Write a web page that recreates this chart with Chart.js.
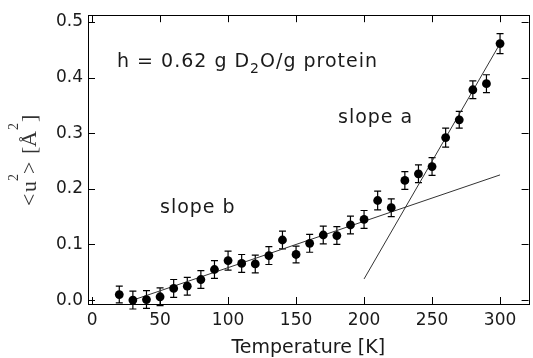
<!DOCTYPE html>
<html>
<head>
<meta charset="utf-8">
<script src="https://cdn.jsdelivr.net/npm/chart.js@4.4.1/dist/chart.umd.min.js"></script>
<style>
html,body{margin:0;padding:0;background:#fff;}
canvas{display:block;}
</style>
</head>
<body>
<canvas id="msdChart" width="533" height="358"></canvas>
<script>
/* ==========================================
   MSD vs TEMPERATURE
========================================== */

// measured points
const temps = [20,30,40,50,60,70,80,90,100,110,120,130,140,150,160,170,180,190,200,210,220,230,240,250,260,270,280,290,300];
const msd   = [0.010,0.000,0.001,0.006,0.021,0.025,0.037,0.055,0.071,0.066,0.065,0.080,0.108,0.082,0.102,0.117,0.116,0.135,0.145,0.179,0.166,0.215,0.227,0.240,0.292,0.324,0.378,0.389,0.461];
const errs  = [0.015,0.016,0.016,0.016,0.016,0.016,0.016,0.016,0.017,0.016,0.016,0.016,0.016,0.015,0.016,0.016,0.016,0.016,0.016,0.017,0.016,0.016,0.016,0.016,0.017,0.015,0.016,0.016,0.018];

// fitted lines
const slopeAT = [200,300];
const slopeAU = [0.038,0.461];
const slopeBT = [30,300];
const slopeBU = [0.000,0.225];

// axes
const xTicks = [0,50,100,150,200,250,300];
const xTickLabels = ["0","50","100","150","200","250","300"];
const yTicks = [0,0.1,0.2,0.3,0.4,0.5];
const yTickLabels = ["0.0","0.1","0.2","0.3","0.4","0.5"];

const textColor = "#1a1a1a";
const sansFont = "'DejaVu Sans'";
const serifFont = "'Liberation Serif'";

function toPoints(xs,ys){
    return xs.map((x,i)=>({x:x,y:ys[i]}));
}

// frame + inside ticks
const framePlugin = {
    id:"frame",
    afterDraw(chart){
        const ctx = chart.ctx;
        const a = chart.chartArea;
        const xs = chart.scales.x;
        const ys = chart.scales.y;
        const len = 7;
        ctx.save();
        ctx.strokeStyle = "#000";
        ctx.lineWidth = 1;
        ctx.strokeRect(Math.round(a.left)+0.5,Math.round(a.top)+0.5,Math.round(a.right-a.left),Math.round(a.bottom-a.top));
        ctx.beginPath();
        xTicks.forEach(v=>{
            const px = Math.round(xs.getPixelForValue(v))+0.5;
            ctx.moveTo(px,a.bottom); ctx.lineTo(px,a.bottom-len);
            ctx.moveTo(px,a.top); ctx.lineTo(px,a.top+len);
        });
        yTicks.forEach(v=>{
            const py = Math.round(ys.getPixelForValue(v))+0.5;
            ctx.moveTo(a.left,py); ctx.lineTo(a.left+len,py);
            ctx.moveTo(a.right,py); ctx.lineTo(a.right-len,py);
        });
        ctx.stroke();
        ctx.restore();
    }
};

// error bars under the markers
const errorBarPlugin = {
    id:"errorBars",
    beforeDatasetsDraw(chart){
        const ctx = chart.ctx;
        const ys = chart.scales.y;
        const meta = chart.getDatasetMeta(0);
        const cap = 3.5;
        ctx.save();
        ctx.strokeStyle = "#000";
        ctx.lineWidth = 1.2;
        ctx.beginPath();
        meta.data.forEach((pt,i)=>{
            const x = pt.x;
            const y1 = ys.getPixelForValue(msd[i]+errs[i]);
            const y2 = ys.getPixelForValue(msd[i]-errs[i]);
            ctx.moveTo(x,y1); ctx.lineTo(x,y2);
            ctx.moveTo(x-cap,y1); ctx.lineTo(x+cap,y1);
            ctx.moveTo(x-cap,y2); ctx.lineTo(x+cap,y2);
        });
        ctx.stroke();
        ctx.restore();
    }
};

// titles and notes
function drawSpaced(ctx,str,x,y,ls){
    ctx.letterSpacing = ls+"px";
    ctx.fillText(str,x,y);
    const w = ctx.measureText(str).width;
    ctx.letterSpacing = "0px";
    return x+w;
}

const labelPlugin = {
    id:"labels",
    afterDraw(chart){
        const ctx = chart.ctx;
        const a = chart.chartArea;
        ctx.save();
        ctx.fillStyle = textColor;
        ctx.textBaseline = "alphabetic";
        ctx.textAlign = "left";

        // x title
        ctx.font = "19px "+sansFont;
        ctx.textAlign = "center";
        ctx.fillText("Temperature [K]",(a.left+a.right)/2,353);
        ctx.textAlign = "left";

        // note
        ctx.font = "19px "+sansFont;
        let x = drawSpaced(ctx,"h = 0.62 g D",117,67,1);
        ctx.font = "14px "+sansFont;
        x = drawSpaced(ctx,"2",x,73,1);
        ctx.font = "19px "+sansFont;
        drawSpaced(ctx,"O/g protein",x,67,1);

        drawSpaced(ctx,"slope a",338,123,1);
        drawSpaced(ctx,"slope b",160,213,1);

        // y title, rotated
        ctx.fillStyle = "#333";
        ctx.translate(36,158);
        ctx.rotate(-Math.PI/2);
        ctx.font = "22px "+serifFont;
        ctx.fillText("<",-48,0);
        ctx.fillText("u",-34,0);
        ctx.fillText(">",-16,0);
        ctx.fillText("[",4,0);
        ctx.fillText("\u00C5",11,0);
        ctx.fillText("]",36,0);
        ctx.font = "14px "+serifFont;
        ctx.fillText("2",-23,-18);
        ctx.fillText("2",28,-18);

        ctx.restore();
    }
};

const ctx = document.getElementById("msdChart").getContext("2d");

const msdChart = new Chart(ctx,{
    type:"scatter",
    data:{
        datasets:[
            {
                data:toPoints(temps,msd),
                backgroundColor:"#000",
                borderColor:"#000",
                borderWidth:0,
                pointRadius:4.4,
                clip:false
            },
            {
                data:toPoints(slopeAT,slopeAU),
                showLine:true,
                borderColor:"#333",
                borderWidth:1,
                pointRadius:0
            },
            {
                data:toPoints(slopeBT,slopeBU),
                showLine:true,
                borderColor:"#333",
                borderWidth:1,
                pointRadius:0
            }
        ]
    },
    options:{
        responsive:false,
        animation:false,
        devicePixelRatio:1,
        layout:{
            padding:{top:12,right:3,left:0,bottom:0}
        },
        plugins:{
            legend:{display:false},
            tooltip:{enabled:false}
        },
        scales:{
            x:{
                type:"linear",
                min:-3,
                max:321,
                afterFit(scale){ scale.height = 54; },
                afterBuildTicks(scale){ scale.ticks = xTicks.map(v=>({value:v})); },
                grid:{display:false,drawTicks:false},
                border:{display:false},
                ticks:{
                    color:textColor,
                    padding:6,
                    maxRotation:0,
                    autoSkip:false,
                    font:{family:"DejaVu Sans",size:17},
                    callback:(v)=>{ const i = xTicks.indexOf(v); return i>=0 ? xTickLabels[i] : ""; }
                }
            },
            y:{
                type:"linear",
                min:-0.007,
                max:0.512,
                afterFit(scale){ scale.width = 88; },
                afterBuildTicks(scale){ scale.ticks = yTicks.map(v=>({value:v})); },
                grid:{display:false,drawTicks:false},
                border:{display:false},
                ticks:{
                    color:textColor,
                    padding:5,
                    autoSkip:false,
                    font:{family:"DejaVu Sans",size:17},
                    callback:(v)=>{ const i = yTicks.findIndex(t=>Math.abs(t-v)<1e-9); return i>=0 ? yTickLabels[i] : ""; }
                }
            }
        }
    },
    plugins:[errorBarPlugin,framePlugin,labelPlugin]
});
</script>
</body>
</html>
